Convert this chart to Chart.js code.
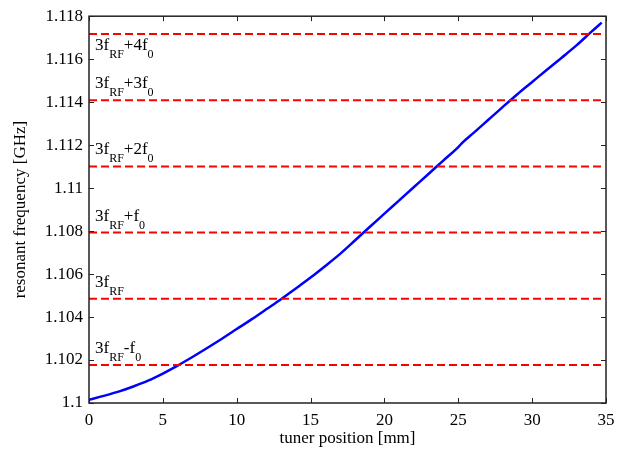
<!DOCTYPE html>
<html>
<head>
<meta charset="utf-8">
<script src="https://cdn.jsdelivr.net/npm/chart.js@4/dist/chart.umd.min.js"></script>
<style>
    html, body { margin: 0; padding: 0; background: #fff; }
    #wrap { width: 627px; height: 456px; }
</style>
</head>
<body>
<div id="wrap"><canvas id="chart-tuner"></canvas></div>
<script>
// tuner position [mm] and measured resonant frequency [GHz]
const tunerPos = [0, 1, 2, 3, 4, 5, 6, 7, 8, 9, 10, 11, 12, 13, 14, 15, 16, 17, 18, 19,
    20, 21, 22, 23, 24, 25, 25.3, 26, 27, 28, 29, 30, 31, 32, 33, 34, 34.71];
const resFreq = [1.10015, 1.10033, 1.10053, 1.10077, 1.10104, 1.10137, 1.10174, 1.10214,
    1.10256, 1.10299, 1.10344, 1.10389, 1.10436, 1.10483, 1.10533, 1.10584, 1.10638,
    1.10694, 1.10756, 1.10819, 1.10881, 1.10943, 1.11005, 1.11067, 1.11129, 1.11191,
    1.11213, 1.11255, 1.11316, 1.11377, 1.11437, 1.11494, 1.11551, 1.11607, 1.11664,
    1.11727, 1.11770];

// harmonic levels 3f_RF + n f_0 (dashed lines)
const harmonicLevels = [1.10177, 1.10485, 1.10793, 1.11101, 1.11409, 1.11717];
const harmonicLabels = [
    ['3f', 'RF', '-f', '0'],
    ['3f', 'RF'],
    ['3f', 'RF', '+f', '0'],
    ['3f', 'RF', '+2f', '0'],
    ['3f', 'RF', '+3f', '0'],
    ['3f', 'RF', '+4f', '0']
];
const lineEnd = 34.71;

const yTicks = [1.1, 1.102, 1.104, 1.106, 1.108, 1.11, 1.112, 1.114, 1.116, 1.118];
const xTicks = [0, 5, 10, 15, 20, 25, 30, 35];

const SERIF = "'Liberation Serif', 'DejaVu Serif', serif";

// frame + inward tick marks, like the old matlab axes
const frameTicks = {
    id: 'frameTicks',
    afterDatasetsDraw(chart) {
        const { ctx, chartArea: a, scales: { x, y } } = chart;
        const len = 5;
        ctx.save();
        ctx.strokeStyle = '#222';
        ctx.lineWidth = 1;
        ctx.beginPath();
        xTicks.forEach(v => {
            const px = Math.round(x.getPixelForValue(v)) + 0.5;
            ctx.moveTo(px, a.bottom); ctx.lineTo(px, a.bottom - len);
            ctx.moveTo(px, a.top); ctx.lineTo(px, a.top + len);
        });
        yTicks.forEach(v => {
            const py = Math.round(y.getPixelForValue(v)) + 0.5;
            ctx.moveTo(a.left, py); ctx.lineTo(a.left + len, py);
            ctx.moveTo(a.right, py); ctx.lineTo(a.right - len, py);
        });
        ctx.stroke();
        ctx.lineWidth = 1.5;
        ctx.strokeRect(a.left, a.top, a.right - a.left, a.bottom - a.top);
        ctx.restore();
    }
};

// labels with subscripts next to each dashed line
const levelLabels = {
    id: 'levelLabels',
    afterDatasetsDraw(chart) {
        const { ctx, scales: { x, y } } = chart;
        ctx.save();
        ctx.fillStyle = '#000';
        ctx.textBaseline = 'alphabetic';
        harmonicLevels.forEach((lvl, i) => {
            const py = y.getPixelForValue(lvl);
            // top one sits under its line, the rest above
            const base = i === harmonicLevels.length - 1 ? py + 16 : py - 12;
            let px = x.getPixelForValue(0) + 6;
            harmonicLabels[i].forEach((part, j) => {
                const sub = j % 2 === 1;
                ctx.font = (sub ? '12px ' : '17px ') + SERIF;
                ctx.fillText(part, px, sub ? base + 8 : base);
                px += ctx.measureText(part).width;
            });
        });
        ctx.restore();
    }
};

const datasets = harmonicLevels.map(lvl => ({
    data: [{ x: 0, y: lvl }, { x: lineEnd, y: lvl }],
    borderColor: '#ff0000',
    borderWidth: 2,
    borderDash: [8, 4],
    pointRadius: 0
}));
datasets.push({
    data: tunerPos.map((p, i) => ({ x: p, y: resFreq[i] })),
    borderColor: '#0000ff',
    borderWidth: 2.5,
    pointRadius: 0,
    cubicInterpolationMode: 'monotone'
});

new Chart(document.getElementById('chart-tuner'), {
    type: 'line',
    data: { datasets: datasets },
    options: {
        responsive: true,
        maintainAspectRatio: false,
        animation: false,
        layout: { padding: { top: 13, right: 21, bottom: 0, left: 0 } },
        plugins: { legend: { display: false }, tooltip: { enabled: false } },
        scales: {
            x: {
                type: 'linear',
                min: 0, max: 35,
                afterFit: s => { s.height = 53; },
                afterBuildTicks: s => { s.ticks = xTicks.map(v => ({ value: v })); },
                grid: { display: false, drawTicks: false },
                border: { display: false },
                ticks: { color: '#000', padding: 7, maxRotation: 0, font: { family: SERIF, size: 17 } },
                title: {
                    display: true, text: 'tuner position [mm]', color: '#000',
                    padding: { top: 0, bottom: 7 }, font: { family: SERIF, size: 17 }
                }
            },
            y: {
                type: 'linear',
                min: 1.1, max: 1.118,
                afterFit: s => { s.width = 89; },
                afterBuildTicks: s => { s.ticks = yTicks.map(v => ({ value: v })); },
                grid: { display: false, drawTicks: false },
                border: { display: false },
                ticks: {
                    color: '#000', padding: 6,
                    font: { family: SERIF, size: 17 },
                    callback: v => String(Number(v.toFixed(3)))
                },
                title: {
                    display: true, text: 'resonant frequency [GHz]', color: '#000',
                    padding: { top: 10, bottom: 0 }, font: { family: SERIF, size: 17 }
                }
            }
        }
    },
    plugins: [frameTicks, levelLabels]
});
</script>
</body>
</html>
